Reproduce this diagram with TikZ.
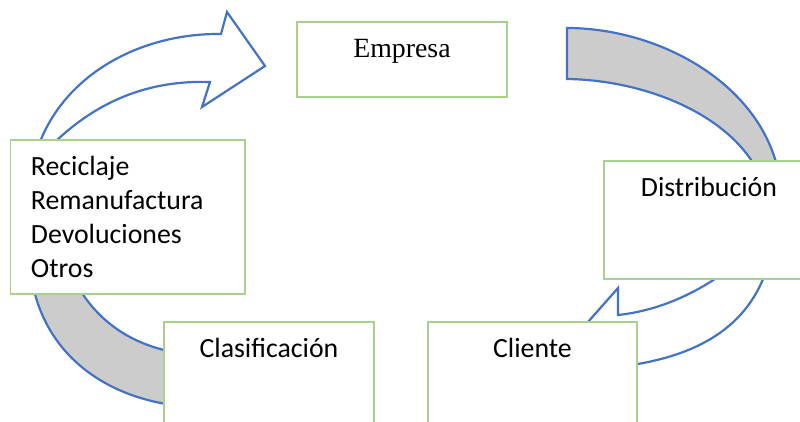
\documentclass[tikz,border=0pt]{standalone}
\usepackage{fontspec}
\setmainfont{Liberation Serif}
\newfontfamily\calibrifont{Carlito}
\definecolor{boxgreen}{RGB}{169,209,142}
\definecolor{arrowblue}{RGB}{68,114,196}
\definecolor{bandgray}{RGB}{204,204,204}
\begin{document}
\begin{tikzpicture}[x=1pt, y=-1pt,
    box/.style={draw=boxgreen, line width=1.9pt, fill=white, inner sep=0pt,
        anchor=north west, text height=36pt,
        font=\calibrifont\fontsize{27.8}{34}\selectfont},
    outline/.style={draw=arrowblue, line width=2.2pt, line join=miter}]
    \useasboundingbox (0,0) rectangle (800,421);
    \draw[outline, fill=white] (37,150) .. controls (62,75) and (140,33) .. (221,34)
        -- (227,12) -- (265,66) -- (202,107) -- (210,82)
        .. controls (150,80) and (95,100) .. (47,150) -- cycle;
    \draw[outline, fill=bandgray] (567,28) .. controls (660,28) and (765,85) .. (780,180)
        -- (762,180) .. controls (735,115) and (645,80) .. (567,79) -- cycle;
    \draw[outline, fill=white] (733,266) .. controls (705,288) and (665,310) .. (618,315)
        -- (618,288) -- (565,348) -- (612,398) -- (625,366)
        .. controls (705,355) and (752,322) .. (769,262) -- cycle;
    \draw[outline, fill=bandgray] (31,275) .. controls (42,350) and (100,397) .. (180,406)
        -- (180,353) .. controls (130,346) and (92,318) .. (72,275) -- cycle;
    \node[box, font=\fontsize{27.8}{34}\selectfont, minimum width=210, text depth=39pt]
        (empresa) at (296,20.7) {Empresa};
    \node[box, minimum width=210, text depth=82pt] (distribucion) at (603,160) {Distribución};
    \node[box, text width=193.5pt, inner xsep=20.5pt, align=left, text depth=118pt]
        (reciclaje) at (9.5,139) {Reciclaje\\Remanufactura\\Devoluciones\\Otros};
    \node[box, minimum width=210, text depth=82pt] (clasificacion) at (163,321) {Clasificación};
    \node[box, minimum width=209, text depth=82pt] (cliente) at (427,321) {Cliente};
\end{tikzpicture}
\end{document}
